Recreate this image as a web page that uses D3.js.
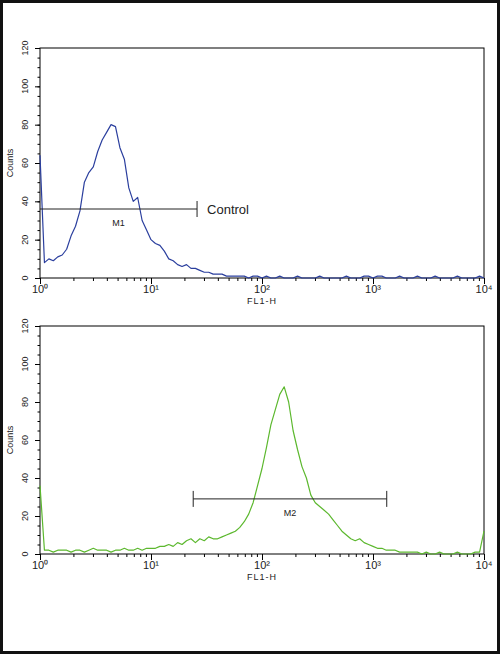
<!DOCTYPE html>
<html><head><meta charset="utf-8">
<script src="https://cdn.jsdelivr.net/npm/d3@7"></script>
<style>body{margin:0;background:#fff}svg{display:block}</style>
</head><body>
<svg width="500" height="654"></svg>
<script>
// channels are log10 steps of 0.04 from 10^0 to 10^4
var step = 0.04;
var controlCounts = [64,8,10,9,11,12,15,22,27,35,
  50,55,58,66,72,76,80,79,68,62,
  47,40,42,30,25,20,18,17,14,10,
  9,7,6,7,5,5,4,3,3,2,
  2,2,1,1,1,1,1,0,1,1,
  0,1,0,0,1,0,0,0,1,0,
  0,0,0,1,0,0,0,0,0,1,
  0,0,0,1,1,0,1,1,0,0,
  0,1,0,0,0,1,0,0,0,1,
  0,0,0,0,1,0,0,0,0,1,0];
var sampleCounts = [36,2,2,1,2,2,2,1,2,2,
  1,2,3,2,2,2,1,2,2,3,
  2,2,3,2,3,3,3,4,4,5,
  4,6,5,7,8,6,8,7,9,8,
  8,9,10,11,12,14,17,21,27,36,
  45,56,68,76,84,88,80,65,55,46,
  40,31,27,25,23,21,18,15,12,10,
  8,7,8,6,5,4,3,3,2,2,
  2,1,1,1,1,1,0,1,0,0,
  1,0,0,0,1,0,0,0,1,1,12];
var yTicks = [0,20,40,60,80,100,120];
var xTicks = [1,10,100,1000,10000];
var markers = [
  {name:"M1", from:1, to:26, y:36, label:"Control", leftTick:false},
  {name:"M2", from:24, to:1330, y:29, label:null, leftTick:true}
];

var svg = d3.select("svg");
svg.append("rect").attr("x",1.5).attr("y",1.5).attr("width",497).attr("height",651)
  .attr("fill","none").attr("stroke","#111").attr("stroke-width",3);

var sup = ["\u2070","\u00b9","\u00b2","\u00b3","\u2074"];

function panel(top, bottom, counts, color, marker) {
  var x = d3.scaleLog().domain([1,10000]).range([40,484]);
  var y = d3.scaleLinear().domain([0,120]).range([bottom, top]);
  var g = svg.append("g").attr("font-family","Arial, Liberation Sans, sans-serif");

  g.append("rect").attr("x",40).attr("y",y(120)).attr("width",444).attr("height",bottom-y(120))
    .attr("fill","none").attr("stroke","#000").attr("stroke-width",1);

  // y axis
  g.append("g").attr("transform","translate(40,0)")
    .call(d3.axisLeft(y).tickValues(yTicks).tickSize(5).tickFormat(""))
    .select(".domain").remove();
  g.append("g").attr("transform","translate(40,0)")
    .call(d3.axisLeft(y).tickValues(d3.range(0,121,5)).tickSize(2.5).tickFormat(""))
    .select(".domain").remove();
  yTicks.forEach(function(t){
    g.append("text").attr("transform","translate(28,"+y(t)+") rotate(-90)")
      .attr("text-anchor","middle").attr("font-size",9).attr("fill","#222").text(t);
  });
  g.append("text").attr("transform","translate(13,"+(y(60))+") rotate(-90)")
    .attr("text-anchor","middle").attr("font-size",9).attr("fill","#222").text("Counts");

  // x axis
  var minors = [];
  for (var d=1; d<10000; d*=10) for (var k=2;k<10;k++) minors.push(d*k);
  g.append("g").attr("transform","translate(0,"+bottom+")")
    .call(d3.axisBottom(x).tickValues(xTicks).tickSize(6).tickFormat(""))
    .select(".domain").remove();
  g.append("g").attr("transform","translate(0,"+bottom+")")
    .call(d3.axisBottom(x).tickValues(minors).tickSize(3).tickFormat(""))
    .select(".domain").remove();
  xTicks.forEach(function(t,i){
    g.append("text").attr("x",x(t)).attr("y",bottom+15).attr("text-anchor","middle")
      .attr("font-size",11).attr("fill","#222").text("10"+sup[i]);
  });
  g.append("text").attr("x",x(100)).attr("y",bottom+26).attr("text-anchor","middle")
    .attr("font-size",9).attr("letter-spacing",1).attr("fill","#222").text("FL1-H");

  // histogram
  var line = d3.line()
    .x(function(d,i){ return x(Math.pow(10, i*step)); })
    .y(function(d){ return y(d); });
  g.append("path").datum(counts).attr("d",line).attr("fill","none")
    .attr("stroke",color).attr("stroke-width",1.2).attr("stroke-linejoin","round");

  // marker
  var my = y(marker.y);
  g.append("line").attr("x1",x(marker.from)).attr("x2",x(marker.to)).attr("y1",my).attr("y2",my)
    .attr("stroke","#222");
  g.append("line").attr("x1",x(marker.to)).attr("x2",x(marker.to)).attr("y1",my-8).attr("y2",my+8).attr("stroke","#222");
  if (marker.leftTick)
    g.append("line").attr("x1",x(marker.from)).attr("x2",x(marker.from)).attr("y1",my-8).attr("y2",my+8).attr("stroke","#222");
  var mid = Math.sqrt(marker.from*marker.to);
  g.append("text").attr("x",x(mid)).attr("y",my+17).attr("text-anchor","middle")
    .attr("font-size",9).attr("fill","#222").text(marker.name);
  if (marker.label)
    g.append("text").attr("x",x(marker.to)+10).attr("y",my+5).attr("font-size",13)
      .attr("fill","#222").text(marker.label);
}

panel(48, 278, controlCounts, "#2b3f9e", markers[0]);
panel(326, 554, sampleCounts, "#5cb82e", markers[1]);
</script>
</body></html>
